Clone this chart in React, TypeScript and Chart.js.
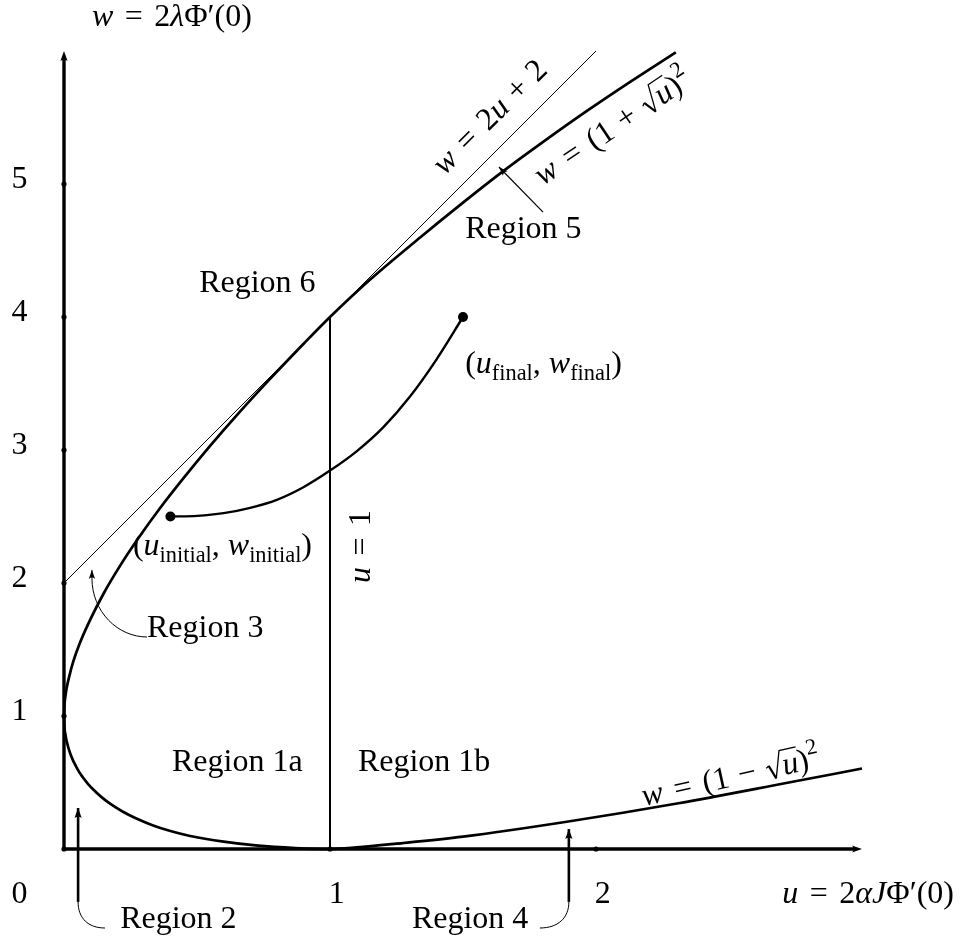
import React, { useEffect, useRef } from 'react';
import { Chart, registerables } from 'chart.js';
Chart.register(...registerables);

// ---- data ----
const upperU = [0, 0.002, 0.005, 0.01, 0.02, 0.035, 0.06, 0.1, 0.15, 0.21, 0.28, 0.36, 0.45, 0.55, 0.66, 0.78, 0.9, 1.0, 1.15, 1.34, 1.5, 1.65, 1.8, 1.97, 2.13, 2.3];
const upperW = [1, 1.09, 1.145, 1.21, 1.30, 1.41, 1.55, 1.73, 1.925, 2.127, 2.338, 2.56, 2.79, 3.033, 3.285, 3.546, 3.797, 4.0, 4.28, 4.6, 4.86, 5.095, 5.315, 5.555, 5.77, 5.99];

const lowerU = [0, 0.002, 0.005, 0.01, 0.025, 0.05, 0.07, 0.09, 0.11, 0.14, 0.18, 0.22, 0.27, 0.33, 0.4, 0.47, 0.6, 0.72, 0.87, 1.0, 1.1, 1.25, 1.5, 1.89, 2.31, 2.71, 3.0];
const lowerW = [1, 0.91, 0.865, 0.81, 0.709, 0.603, 0.541, 0.49, 0.447, 0.392, 0.331, 0.282, 0.231, 0.181, 0.135, 0.1, 0.055, 0.027, 0.007, 0, 0.012, 0.04, 0.093, 0.205, 0.344, 0.494, 0.605];

const tangentU = [0, 2];
const tangentW = [2, 6];

const dividerU = [1, 1];
const dividerW = [0, 4];

const pathU = [0.4, 0.5, 0.6, 0.7, 0.8, 0.9, 1.0, 1.1, 1.2, 1.3, 1.4, 1.5];
const pathW = [2.5, 2.505, 2.525, 2.565, 2.625, 2.72, 2.845, 2.99, 3.17, 3.4, 3.68, 4.0];

const endpointU = [0.4, 1.5];
const endpointW = [2.5, 4.0];

const xTicks = [1, 2];
const xTickLabels = ['1', '2'];
const yTicks = [1, 2, 3, 4, 5];
const yTickLabels = ['1', '2', '3', '4', '5'];
const originLabel = '0';

const X_MAX = 3;
const Y_MAX = 6;

// ---- text annotations ----
type Seg = { t: string; it?: boolean; sub?: boolean; sup?: boolean; sqrt?: boolean; pad?: number };
type Label = { segs: Seg[]; u: number; w: number; align: 'left' | 'center' | 'right'; angle: number };

const REL = 0.36; // spacing round "=" (em)
const BIN = 0.3; // spacing round "+" / "−" (em)
const W: Seg = { t: 'w', it: true };
const U: Seg = { t: 'u', it: true };
const EQ: Seg = { t: '=', pad: REL };

const labels: Label[] = [
  { segs: [W, EQ, { t: '2' }, { t: 'λ', it: true }, { t: 'Φ′(0)' }], u: 0.105, w: 6.188, align: 'left', angle: 0 },
  { segs: [U, EQ, { t: '2' }, { t: 'α', it: true }, { t: 'J', it: true }, { t: 'Φ′(0)' }], u: 2.7, w: -0.406, align: 'left', angle: 0 },
  { segs: [{ t: 'Region 6' }], u: 0.508, w: 4.188, align: 'left', angle: 0 },
  { segs: [{ t: 'Region 5' }], u: 1.508, w: 4.594, align: 'left', angle: 0 },
  { segs: [{ t: '(' }, U, { t: 'final', sub: true }, { t: ',' }, { t: ' ' }, W, { t: 'final', sub: true }, { t: ')' }], u: 1.508, w: 3.579, align: 'left', angle: 0 },
  { segs: [{ t: '(' }, U, { t: 'initial', sub: true }, { t: ',' }, { t: ' ' }, W, { t: 'initial', sub: true }, { t: ')' }], u: 0.259, w: 2.211, align: 'left', angle: 0 },
  { segs: [U, EQ, { t: '1' }], u: 1.15, w: 2.0, align: 'left', angle: -90 },
  { segs: [{ t: 'Region 3' }], u: 0.312, w: 1.594, align: 'left', angle: 0 },
  { segs: [{ t: 'Region 1a' }], u: 0.406, w: 0.586, align: 'left', angle: 0 },
  { segs: [{ t: 'Region 1b' }], u: 1.105, w: 0.586, align: 'left', angle: 0 },
  { segs: [{ t: 'Region 2' }], u: 0.211, w: -0.594, align: 'left', angle: 0 },
  { segs: [{ t: 'Region 4' }], u: 1.308, w: -0.594, align: 'left', angle: 0 },
  { segs: [W, EQ, { t: '2' }, U, { t: '+', pad: BIN }, { t: '2' }], u: 1.43, w: 5.06, align: 'left', angle: -45 },
  { segs: [W, EQ, { t: '(1' }, { t: '+', pad: BIN }, { t: 'u', it: true, sqrt: true }, { t: ')' }, { t: '2', sup: true }], u: 1.8, w: 4.985, align: 'left', angle: -34 },
  { segs: [W, EQ, { t: '(1' }, { t: '−', pad: BIN }, { t: 'u', it: true, sqrt: true }, { t: ')' }, { t: '2', sup: true }], u: 2.18, w: 0.323, align: 'left', angle: -12.5 },
];

// arrows: list of path pieces in data coords, head at the end
type Piece = { pts: number[][]; width: number; curve: boolean };
type Arrow = { pieces: Piece[]; headLen: number; headHalf: number };
const arrows: Arrow[] = [
  { // Region 2
    pieces: [
      { pts: [[0.154, -0.594], [0.09, -0.594], [0.053, -0.519], [0.053, -0.398]], width: 1, curve: true },
      { pts: [[0.053, -0.398], [0.053, 0.308]], width: 2.6, curve: false },
    ], headLen: 10, headHalf: 3.6,
  },
  { // Region 4
    pieces: [
      { pts: [[1.789, -0.594], [1.857, -0.594], [1.898, -0.519], [1.898, -0.398]], width: 1, curve: true },
      { pts: [[1.898, -0.398], [1.898, 0.15]], width: 2.6, curve: false },
    ], headLen: 10, headHalf: 3.6,
  },
  { // Region 3
    pieces: [
      { pts: [[0.312, 1.594], [0.203, 1.594], [0.105, 1.782], [0.105, 2.038]], width: 1, curve: true },
      { pts: [[0.105, 2.038], [0.105, 2.098]], width: 1, curve: false },
    ], headLen: 9, headHalf: 3.2,
  },
  { // Region 5
    pieces: [
      { pts: [[1.801, 4.789], [1.635, 5.128]], width: 1.2, curve: false },
    ], headLen: 9, headHalf: 3.2,
  },
];

const FONT = '"Liberation Serif", "Times New Roman", serif';
const BASE = 32;

function fontFor(s: Seg, size: number) {
  const sz = s.sub || s.sup ? size * 0.7 : size;
  return `${s.it ? 'italic ' : ''}${sz}px ${FONT}`;
}
function segWidth(ctx: CanvasRenderingContext2D, s: Seg, size: number) {
  ctx.font = fontFor(s, size);
  let w = ctx.measureText(s.t).width + 2 * (s.pad || 0) * size;
  if (s.sqrt) w += size * 0.55;
  return w;
}
function drawRich(ctx: CanvasRenderingContext2D, segs: Seg[], x: number, y: number, align: string, angleDeg: number, size = BASE) {
  const total = segs.reduce((a, s) => a + segWidth(ctx, s, size), 0);
  ctx.save();
  ctx.translate(x, y);
  ctx.rotate((angleDeg * Math.PI) / 180);
  ctx.fillStyle = '#000';
  ctx.strokeStyle = '#000';
  ctx.textBaseline = 'alphabetic';
  ctx.textAlign = 'left';
  let cx = align === 'left' ? 0 : align === 'center' ? -total / 2 : -total;
  for (const s of segs) {
    ctx.font = fontFor(s, size);
    const dy = s.sub ? size * 0.22 : s.sup ? -size * 0.45 : 0;
    const tw = ctx.measureText(s.t).width;
    const pad = (s.pad || 0) * size;
    cx += pad;
    if (s.sqrt) {
      const r = size * 0.55;
      ctx.beginPath();
      ctx.lineWidth = 1.3;
      ctx.moveTo(cx + size * 0.04, -size * 0.32);
      ctx.lineTo(cx + size * 0.13, -size * 0.38);
      ctx.stroke();
      ctx.beginPath();
      ctx.lineWidth = 2.2;
      ctx.moveTo(cx + size * 0.13, -size * 0.38);
      ctx.lineTo(cx + size * 0.28, size * 0.05);
      ctx.stroke();
      ctx.beginPath();
      ctx.lineWidth = 1.3;
      ctx.moveTo(cx + size * 0.28, size * 0.05);
      ctx.lineTo(cx + r, -size * 0.78);
      ctx.lineTo(cx + r + tw + size * 0.03, -size * 0.78);
      ctx.stroke();
      ctx.fillText(s.t, cx + r, dy);
      cx += r + tw;
    } else {
      ctx.fillText(s.t, cx, dy);
      cx += tw;
    }
    cx += pad;
  }
  ctx.restore();
}

function drawHead(ctx: CanvasRenderingContext2D, tx: number, ty: number, fx: number, fy: number, len: number, half: number) {
  let dx = tx - fx, dy = ty - fy;
  const d = Math.hypot(dx, dy) || 1;
  dx /= d; dy /= d;
  const bx = tx - dx * len, by = ty - dy * len;
  const px = -dy, py = dx;
  ctx.beginPath();
  ctx.moveTo(tx, ty);
  ctx.lineTo(bx + px * half, by + py * half);
  ctx.quadraticCurveTo(tx - dx * len * 0.7, ty - dy * len * 0.7, bx - px * half, by - py * half);
  ctx.closePath();
  ctx.fill();
}

const zip = (us: number[], ws: number[]) => us.map((u, i) => ({ x: u, y: ws[i] }));

const decorPlugin = {
  id: 'decor',
  beforeDatasetsDraw(chart: any) {
    const ctx: CanvasRenderingContext2D = chart.ctx;
    const X = (u: number) => chart.scales.x.getPixelForValue(u);
    const Y = (w: number) => chart.scales.y.getPixelForValue(w);
    ctx.save();
    ctx.strokeStyle = '#000';
    ctx.fillStyle = '#000';
    ctx.lineWidth = 3.4;
    ctx.lineCap = 'butt';
    ctx.beginPath();
    ctx.moveTo(X(0) - 1.7, Y(0));
    ctx.lineTo(X(X_MAX) - 7, Y(0));
    ctx.stroke();
    drawHead(ctx, X(X_MAX), Y(0), X(0), Y(0), 10, 3.6);
    ctx.beginPath();
    ctx.moveTo(X(0), Y(0));
    ctx.lineTo(X(0), Y(Y_MAX) + 7);
    ctx.stroke();
    drawHead(ctx, X(0), Y(Y_MAX), X(0), Y(0), 10, 3.6);
    ctx.restore();
  },
  afterDatasetsDraw(chart: any) {
    const ctx: CanvasRenderingContext2D = chart.ctx;
    const X = (u: number) => chart.scales.x.getPixelForValue(u);
    const Y = (w: number) => chart.scales.y.getPixelForValue(w);
    ctx.save();
    ctx.strokeStyle = '#000';
    ctx.fillStyle = '#000';
    for (const a of arrows) {
      let lastFrom: number[] = [0, 0];
      let lastTo: number[] = [0, 0];
      for (const p of a.pieces) {
        ctx.beginPath();
        ctx.lineWidth = p.width;
        const P = p.pts.map((q) => [X(q[0]), Y(q[1])]);
        ctx.moveTo(P[0][0], P[0][1]);
        if (p.curve) {
          ctx.bezierCurveTo(P[1][0], P[1][1], P[2][0], P[2][1], P[3][0], P[3][1]);
        } else {
          for (let i = 1; i < P.length; i++) ctx.lineTo(P[i][0], P[i][1]);
        }
        ctx.stroke();
        lastFrom = P[P.length - 2];
        lastTo = P[P.length - 1];
      }
      drawHead(ctx, lastTo[0], lastTo[1], lastFrom[0], lastFrom[1], a.headLen, a.headHalf);
    }
    yTicks.forEach((t, i) => {
      drawRich(ctx, [{ t: yTickLabels[i] }], X(-0.167), Y(t - 0.03), 'center', 0);
    });
    xTicks.forEach((t, i) => {
      drawRich(ctx, [{ t: xTickLabels[i] }], X(t + 0.025), Y(-0.406), 'center', 0);
    });
    drawRich(ctx, [{ t: originLabel }], X(-0.167), Y(-0.406), 'center', 0);
    for (const l of labels) drawRich(ctx, l.segs, X(l.u), Y(l.w), l.align, l.angle);
    ctx.restore();
  },
};

export default function App() {
  const ref = useRef<HTMLCanvasElement | null>(null);
  useEffect(() => {
    if (!ref.current) return;
    const line = (data: any[], width: number, mono: boolean) => ({
      data,
      showLine: true,
      borderColor: '#000',
      backgroundColor: '#000',
      borderWidth: width,
      pointRadius: 0,
      tension: mono ? 0.4 : 0,
      cubicInterpolationMode: mono ? 'monotone' : 'default',
      borderJoinStyle: 'round',
      clip: false,
    });
    const chart = new Chart(ref.current, {
      type: 'scatter',
      data: {
        datasets: [
          line(zip(tangentU, tangentW), 1, false),
          line(zip(dividerU, dividerW), 2, false),
          line(zip(upperU, upperW), 2.7, true),
          line(zip(lowerU, lowerW), 2.7, true),
          line(zip(pathU, pathW), 2.4, true),
          {
            data: zip(endpointU, endpointW),
            showLine: false,
            pointRadius: 5,
            pointBackgroundColor: '#000',
            pointBorderWidth: 0,
            clip: false,
          },
          {
            data: [
              ...yTicks.map((t) => ({ x: 0, y: t })),
              ...xTicks.map((t) => ({ x: t, y: 0 })),
              { x: 0, y: 0 },
            ],
            showLine: false,
            pointRadius: 2.6,
            pointBackgroundColor: '#000',
            pointBorderWidth: 0,
            clip: false,
          },
        ] as any,
      },
      options: {
        animation: false,
        responsive: false,
        maintainAspectRatio: false,
        devicePixelRatio: 1,
        layout: { padding: { left: 64, right: 107, top: 51, bottom: 91 } },
        scales: {
          x: { type: 'linear', min: 0, max: X_MAX, display: false },
          y: { type: 'linear', min: 0, max: Y_MAX, display: false },
        },
        plugins: { legend: { display: false }, tooltip: { enabled: false } },
        events: [],
      } as any,
      plugins: [decorPlugin],
    });
    return () => chart.destroy();
  }, []);
  return (
    <div style={{ position: 'absolute', left: 0, top: 0, width: 969, height: 940, background: '#fff' }}>
      <canvas ref={ref} width={969} height={940} style={{ width: 969, height: 940, display: 'block' }} />
    </div>
  );
}
